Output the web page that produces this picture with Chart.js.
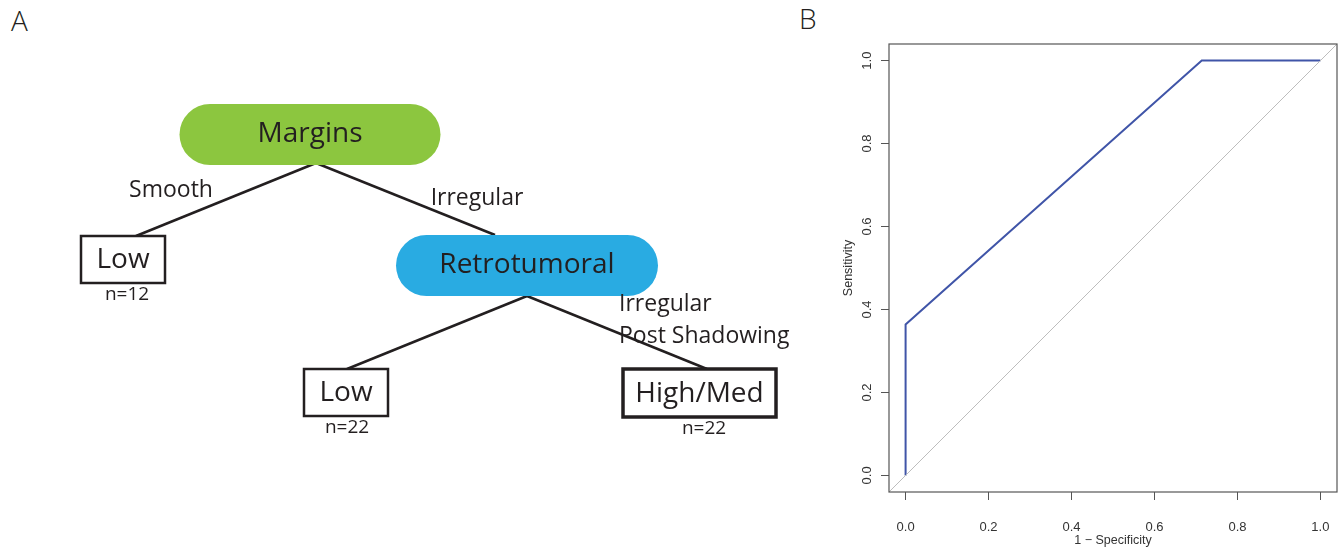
<!DOCTYPE html>
<html>
<head>
<meta charset="utf-8">
<script src="https://cdn.jsdelivr.net/npm/chart.js@4"></script>
<style>
    body { margin: 0; background: #fff; width: 1344px; height: 548px; position: relative; overflow: hidden; }
    #treeChart { position: absolute; left: 0; top: 0; }
    #rocChart { position: absolute; left: 820px; top: 0; }
    .panel-letter { position: absolute; font-family: "Open Sans", sans-serif; font-weight: 300; font-size: 28px; color: #231f20; line-height: 1; }
</style>
</head>
<body>
<div class="panel-letter" style="left:11px; top:6px;">A</div>
<div class="panel-letter" style="left:799px; top:4px;">B</div>
<canvas id="treeChart" width="820" height="548"></canvas>
<canvas id="rocChart" width="524" height="548"></canvas>

<script>
// ---- data ----
const splitNames = ['Margins', 'Retrotumoral'];
const branchLabels = ['Smooth', 'Irregular', 'Irregular', 'Post Shadowing'];
const leafClasses = ['Low', 'Low', 'High/Med'];
const leafCounts = [12, 22, 22];

const rocFpr = [0, 0, 0.714, 1];          // 1 - specificity
const rocTpr = [0, 0.364, 1, 1];          // sensitivity
const axisTicks = [0, 0.2, 0.4, 0.6, 0.8, 1.0];
const axisMin = -0.04, axisMax = 1.04;

// ==================== A: decision tree ====================
// layout of the tree (pixel units of the tree canvas)
const splitBoxes = [
    { cx: 310, cy: 134.5, w: 261, h: 61, color: '#8cc63f' },
    { cx: 527, cy: 265.5, w: 262, h: 61, color: '#29abe2' }
];
const leafBoxes = [
    { x: 81, y: 236, w: 84, h: 47, lw: 2.5, nx: 127 },
    { x: 304, y: 369, w: 84, h: 47, lw: 2.5, nx: 347 },
    { x: 623, y: 369, w: 153, h: 48, lw: 3.5, nx: 704 }
];
const edges = [
    [[316, 163], [136, 236]],
    [[316, 163], [495, 235]],
    [[527, 296], [347, 369]],
    [[527, 296], [707, 369]]
];
const branchPos = [
    { x: 171, y: 190, align: 'center' },
    { x: 477, y: 198, align: 'center' },
    { x: 619, y: 304, align: 'left' },
    { x: 619, y: 336, align: 'left' }
];

const treeFont = '"Open Sans", sans-serif';
const ink = '#231f20';

const treeNodes = {
    id: 'treeNodes',
    afterDatasetsDraw(chart) {
        const ctx = chart.ctx;
        const sx = chart.scales.x, sy = chart.scales.y;
        ctx.save();
        ctx.textBaseline = 'middle';

        splitBoxes.forEach((b, i) => {
            const x0 = sx.getPixelForValue(b.cx - b.w / 2);
            const y0 = sy.getPixelForValue(b.cy - b.h / 2);
            ctx.fillStyle = b.color;
            ctx.beginPath();
            ctx.roundRect(x0, y0, b.w, b.h, b.h / 2);
            ctx.fill();
            ctx.fillStyle = ink;
            ctx.font = '28px ' + treeFont;
            ctx.textAlign = 'center';
            ctx.fillText(splitNames[i], sx.getPixelForValue(b.cx), sy.getPixelForValue(b.cy));
        });

        leafBoxes.forEach((b, i) => {
            const x0 = sx.getPixelForValue(b.x);
            const y0 = sy.getPixelForValue(b.y);
            ctx.fillStyle = '#fff';
            ctx.fillRect(x0, y0, b.w, b.h);
            ctx.strokeStyle = ink;
            ctx.lineWidth = b.lw;
            ctx.strokeRect(x0, y0, b.w, b.h);
            ctx.fillStyle = ink;
            ctx.textAlign = 'center';
            ctx.font = '28px ' + treeFont;
            ctx.fillText(leafClasses[i], x0 + b.w / 2, y0 + b.h / 2 + 1);
            ctx.font = '19px ' + treeFont;
            ctx.fillText('n=' + leafCounts[i], sx.getPixelForValue(b.nx), y0 + b.h + 12);
        });

        ctx.font = '23px ' + treeFont;
        ctx.fillStyle = ink;
        branchLabels.forEach((t, i) => {
            const p = branchPos[i];
            ctx.textAlign = p.align;
            ctx.fillText(t, sx.getPixelForValue(p.x), sy.getPixelForValue(p.y));
        });
        ctx.restore();
    }
};

const treeElement = document.getElementById('treeChart');
if (treeElement) {
    new Chart(treeElement.getContext('2d'), {
        type: 'scatter',
        data: {
            datasets: edges.map(e => ({
                data: e.map(p => ({ x: p[0], y: p[1] })),
                showLine: true,
                borderColor: ink,
                borderWidth: 2.5,
                pointRadius: 0
            }))
        },
        options: {
            responsive: false,
            animation: false,
            layout: { padding: 0 },
            plugins: { legend: { display: false }, tooltip: { enabled: false } },
            scales: {
                x: { type: 'linear', min: 0, max: 820, display: false },
                y: { type: 'linear', min: 0, max: 548, reverse: true, display: false }
            }
        },
        plugins: [treeNodes]
    });
}

// ==================== B: ROC curve ====================
const axisColor = '#555555';
const rocFont = '"Liberation Sans", Arial, sans-serif';

const rocFrame = {
    id: 'rocFrame',
    afterDraw(chart) {
        const { ctx, chartArea } = chart;
        const sy = chart.scales.y;
        ctx.save();
        ctx.strokeStyle = axisColor;
        ctx.lineWidth = 1.2;
        ctx.strokeRect(chartArea.left, chartArea.top, chartArea.right - chartArea.left, chartArea.bottom - chartArea.top);
        // y tick labels, rotated like base R
        ctx.fillStyle = '#333';
        ctx.font = '13px ' + rocFont;
        ctx.textAlign = 'center';
        ctx.textBaseline = 'middle';
        axisTicks.forEach(v => {
            ctx.save();
            ctx.translate(47, sy.getPixelForValue(v));
            ctx.rotate(-Math.PI / 2);
            ctx.fillText(v.toFixed(1), 0, 0);
            ctx.restore();
        });
        ctx.restore();
    }
};

const rocElement = document.getElementById('rocChart');
if (rocElement) {
    new Chart(rocElement.getContext('2d'), {
        type: 'scatter',
        data: {
            datasets: [{
                data: [{ x: axisMin, y: axisMin }, { x: axisMax, y: axisMax }],
                showLine: true,
                borderColor: '#bdbdbd',
                borderWidth: 1,
                pointRadius: 0
            }, {
                data: rocFpr.map((v, i) => ({ x: v, y: rocTpr[i] })),
                showLine: true,
                borderColor: '#4055a8',
                borderWidth: 2,
                pointRadius: 0
            }]
        },
        options: {
            responsive: false,
            animation: false,
            layout: { padding: { left: 0, top: 44, right: 7, bottom: 0 } },
            plugins: { legend: { display: false }, tooltip: { enabled: false } },
            scales: {
                x: {
                    type: 'linear', min: axisMin, max: axisMax,
                    afterBuildTicks: s => { s.ticks = axisTicks.map(v => ({ value: v })); },
                    afterFit: s => { s.height = 56; s.paddingLeft = 0; s.paddingRight = 0; },
                    grid: { drawOnChartArea: false, drawTicks: true, tickLength: 8, color: axisColor },
                    border: { display: false },
                    ticks: {
                        color: '#333', padding: 20, maxRotation: 0,
                        font: { family: rocFont, size: 13 },
                        callback: v => v.toFixed(1)
                    },
                    title: {
                        display: true, text: '1 \u2212 Specificity', color: '#333',
                        font: { family: rocFont, size: 12.5 }, padding: { top: 0, bottom: 0 }
                    }
                },
                y: {
                    type: 'linear', min: axisMin, max: axisMax,
                    afterBuildTicks: s => { s.ticks = axisTicks.map(v => ({ value: v })); },
                    afterFit: s => { s.width = 69; s.paddingTop = 0; s.paddingBottom = 0; },
                    grid: { drawOnChartArea: false, drawTicks: true, tickLength: 8, color: axisColor },
                    border: { display: false },
                    ticks: { display: false },
                    title: {
                        display: true, text: 'Sensitivity', color: '#333',
                        font: { family: rocFont, size: 12.5 }, padding: { top: 21, bottom: 0 }
                    }
                }
            }
        },
        plugins: [rocFrame]
    });
}
</script>
</body>
</html>
